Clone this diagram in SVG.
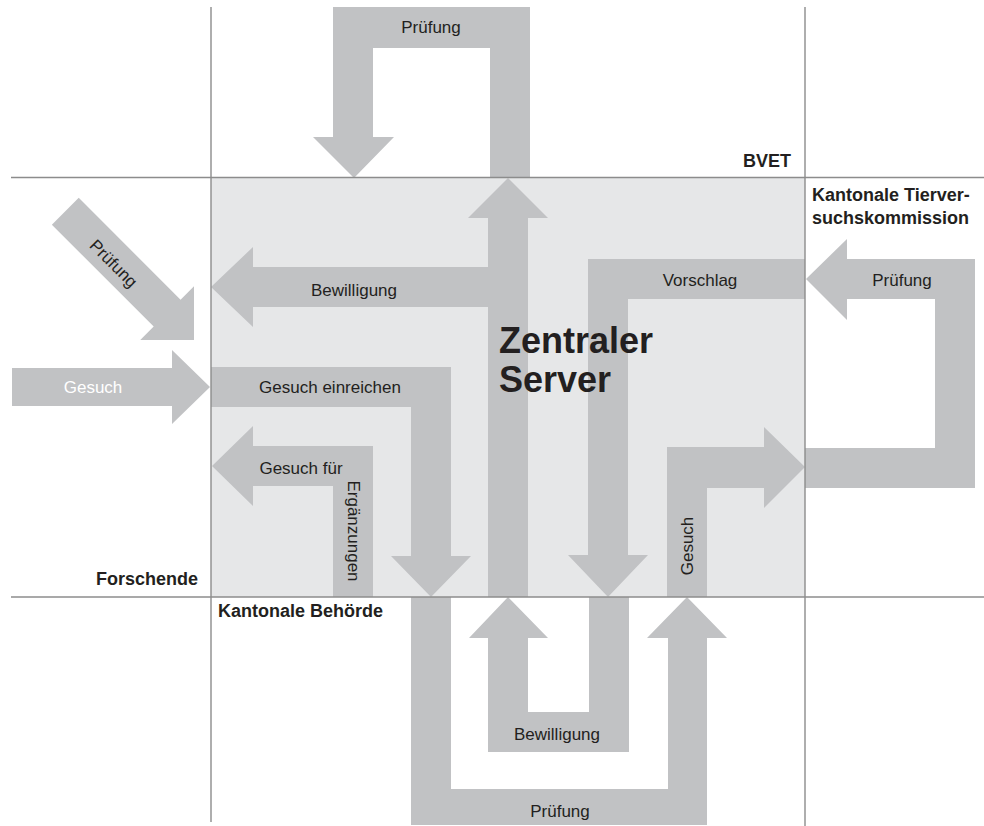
<svg xmlns="http://www.w3.org/2000/svg" width="984" height="826" viewBox="0 0 984 826">
<style>
.arr{fill:#c1c2c4;stroke:none}
.grid{stroke:#8c8c8c;stroke-width:1.4;fill:none}
.lbl{font-family:"Liberation Sans",Arial,sans-serif;font-size:17px;fill:#231f20;text-anchor:middle}
.wlbl{font-family:"Liberation Sans",Arial,sans-serif;font-size:17px;fill:#ffffff;text-anchor:middle}
.zone{font-family:"Liberation Sans",Arial,sans-serif;font-size:18px;font-weight:bold;fill:#231f20}
.big{font-family:"Liberation Sans",Arial,sans-serif;font-size:36px;font-weight:bold;fill:#231f20}
</style>
<rect width="984" height="826" fill="#ffffff"/>
<g id="server">
<rect x="211" y="178" width="594" height="419" fill="#e6e7e8"/>
</g>
<g id="connectors">
<!-- top Prüfung loop -->
<path class="arr" d="M490 178 L490 48 L373 48 L373 137 L394 137 L354 178 L313 137 L333 137 L333 7 L530 7 L530 178 Z"/>
<!-- central vertical arrow up -->
<path class="arr" d="M488 597 L488 218 L468 218 L508 178 L548 218 L528 218 L528 597 Z"/>
<!-- Bewilligung left -->
<path class="arr" d="M211 287 L253 247 L253 267 L488 267 L488 307 L253 307 L253 327 Z"/>
<!-- Vorschlag -->
<path class="arr" d="M805 259 L588 259 L588 555 L568 555 L608 597 L648 555 L628 555 L628 299 L805 299 Z"/>
<!-- right Prüfung loop -->
<path class="arr" d="M806 279 L847 239 L847 259 L975 259 L975 488 L805 488 L805 448 L935 448 L935 299 L847 299 L847 320 Z"/>
<!-- Gesuch right -->
<path class="arr" d="M667 597 L667 447 L764 447 L764 427 L805 467 L764 508 L764 488 L707 488 L707 597 Z"/>
<!-- Gesuch einreichen -->
<path class="arr" d="M211 367 L451 367 L451 556 L471 556 L431 597 L391 556 L411 556 L411 407 L211 407 Z"/>
<!-- Gesuch für Ergänzungen -->
<path class="arr" d="M373 597 L373 446 L253 446 L253 426 L212 466 L253 506 L253 486 L333 486 L333 597 Z"/>
<!-- bottom Prüfung loop -->
<path class="arr" d="M411 597 L451 597 L451 789 L668 789 L668 638 L647 638 L687 597 L727 638 L707 638 L707 825 L411 825 Z"/>
<!-- bottom Bewilligung loop -->
<path class="arr" d="M589 597 L629 597 L629 752 L488 752 L488 638 L469 638 L508 597 L548 638 L528 638 L528 712 L589 712 Z"/>
<!-- left Gesuch -->
<path class="arr" d="M12 368 L172 368 L172 350 L210 387 L172 424 L172 406 L12 406 Z"/>
<!-- diagonal Prüfung -->
<g transform="translate(194,340) rotate(45)">
<path class="arr" d="M-182 -19 L-38 -19 L-38 -38 L0 0 L-38 38 L-38 19 L-182 19 Z"/>
</g>
<!-- labels -->
<text class="lbl" x="431" y="33">Prüfung</text>
<text class="lbl" x="354" y="296">Bewilligung</text>
<text class="lbl" x="700" y="286">Vorschlag</text>
<text class="lbl" x="902" y="286">Prüfung</text>
<text class="lbl" x="330" y="393">Gesuch einreichen</text>
<text class="lbl" x="301" y="474">Gesuch für</text>
<text class="lbl" transform="translate(348,531) rotate(90)">Ergänzungen</text>
<text class="lbl" transform="translate(693,546) rotate(-90)">Gesuch</text>
<text class="lbl" x="557" y="740">Bewilligung</text>
<text class="lbl" x="560" y="817">Prüfung</text>
<text class="wlbl" x="93" y="393">Gesuch</text>
<text class="lbl" transform="translate(113,264) rotate(45)" y="5">Prüfung</text>
</g>
<g id="grid">
<line class="grid" x1="211" y1="7" x2="211" y2="822"/>
<line class="grid" x1="805" y1="7" x2="805" y2="826"/>
<line class="grid" x1="11" y1="177.5" x2="984" y2="177.5"/>
<line class="grid" x1="11" y1="597" x2="984" y2="597"/>
</g>
<g id="zentraler-server">
<text class="big" x="499" y="353">Zentraler</text>
<text class="big" x="499" y="392">Server</text>
</g>
<g id="bvet"><text class="zone" x="791" y="167" text-anchor="end">BVET</text></g>
<g id="kantonale-tierversuchskommission">
<text class="zone" x="812" y="201">Kantonale Tierver-</text>
<text class="zone" x="812" y="224">suchskommission</text>
</g>
<g id="forschende"><text class="zone" x="198" y="585" text-anchor="end">Forschende</text></g>
<g id="kantonale-behoerde"><text class="zone" x="218" y="617">Kantonale Behörde</text></g>
</svg>
